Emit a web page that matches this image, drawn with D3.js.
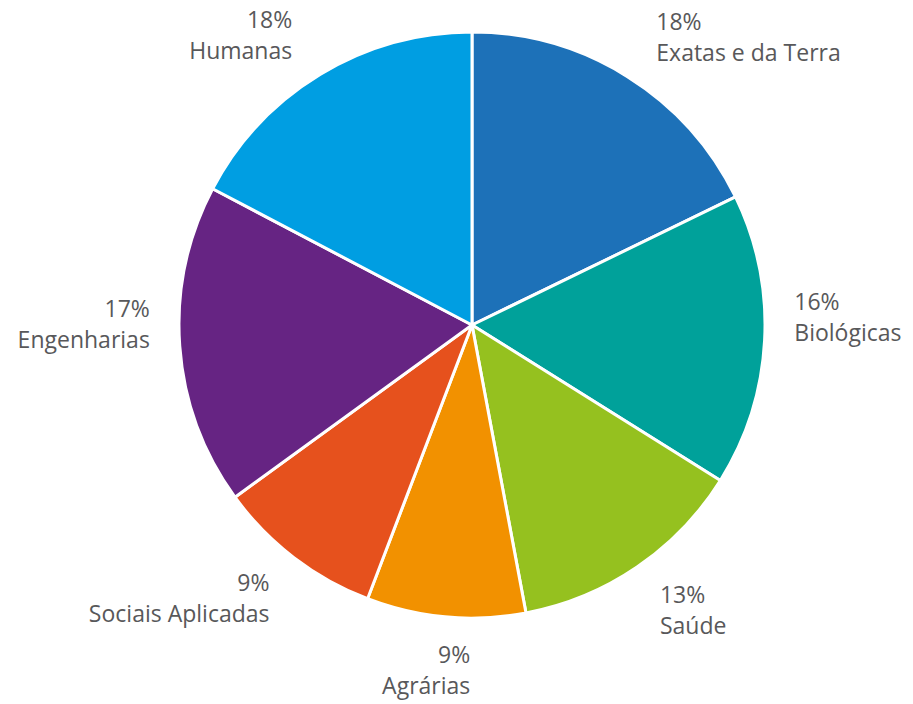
<!DOCTYPE html>
<html>
<head>
<meta charset="utf-8">
<script src="https://cdn.jsdelivr.net/npm/d3@7"></script>
<style>
  body { margin: 0; background: #fff; }
  svg text { font-family: "Open Sans", "Noto Sans", sans-serif; fill: #58585a; }
</style>
</head>
<body>
<svg id="chart" width="913" height="704"></svg>
<script>
// areas, slice sizes (%), and the printed labels
var categories = ["Exatas e da Terra", "Biológicas", "Saúde", "Agrárias", "Sociais Aplicadas", "Engenharias", "Humanas"];
var shares = [17.8, 16.1, 13.15, 8.75, 9.2, 17.7, 17.3];
var pctLabels = ["18%", "16%", "13%", "9%", "9%", "17%", "18%"];
var colors = ["#1d71b8", "#00a19a", "#95c11f", "#f29100", "#e6511d", "#662483", "#009ee2"];

var data = categories.map(function(c, i) {
    return {name: c, value: shares[i], pct: pctLabels[i], color: colors[i]};
});

var svg = d3.select("#chart"),
    cx = 472,
    cy = 325,
    radius = 293,
    labelDist = 322,   // distance from centre to the near edge of each label
    lineGap = 31,
    capH = 17,
    boxH = 52;

var g = svg.append("g")
    .attr("transform", "translate(" + cx + "," + cy + ")");

var pie = d3.pie()
    .sort(null)
    .value(function(d) { return d.value; });

var arc = d3.arc().innerRadius(0).outerRadius(radius);

var arcs = pie(data);

g.selectAll("path.slice")
    .data(arcs)
    .enter().append("path")
    .attr("class", "slice")
    .attr("d", arc)
    .attr("fill", function(d) { return d.data.color; })
    .attr("stroke", "#fff")
    .attr("stroke-width", 3)
    .attr("stroke-linejoin", "round");

var labels = g.selectAll("text.label")
    .data(arcs)
    .enter().append("text")
    .attr("class", "label")
    .attr("font-size", "23px");

labels.append("tspan").attr("class", "l1").text(function(d) { return d.data.pct; });
labels.append("tspan").attr("class", "l2").text(function(d) { return d.data.name; });

labels.each(function(d) {
    var t = d3.select(this);
    var w = Math.max(t.select(".l1").node().getComputedTextLength(),
                     t.select(".l2").node().getComputedTextLength());
    var mid = (d.startAngle + d.endAngle) / 2;
    var sx = Math.sin(mid), sy = -Math.cos(mid);
    // push diagonal labels a bit further out sideways
    var push = Math.abs(sx * sy) * (sy < 0 ? 30 : 14);
    var ax = labelDist * sx + (sx < 0 ? -push : push),
        ay = labelDist * sy;
    // slide the box round its anchor depending on direction
    var f = Math.max(0, Math.min(1, 0.5 - 2 * sx));
    var gy = sy >= 0 ? 1 - 1.1 * sy : 1 + 0.3 * sy;
    gy = Math.max(0, Math.min(1, gy));
    var left = ax - f * w,
        top = ay - gy * boxH;
    var anchor = sx < 0 ? "end" : "start";
    var x = anchor === "end" ? left + w : left;
    t.attr("text-anchor", anchor);
    t.select(".l1").attr("x", x).attr("y", top + capH);
    t.select(".l2").attr("x", x).attr("y", top + capH + lineGap);
});
</script>
</body>
</html>
